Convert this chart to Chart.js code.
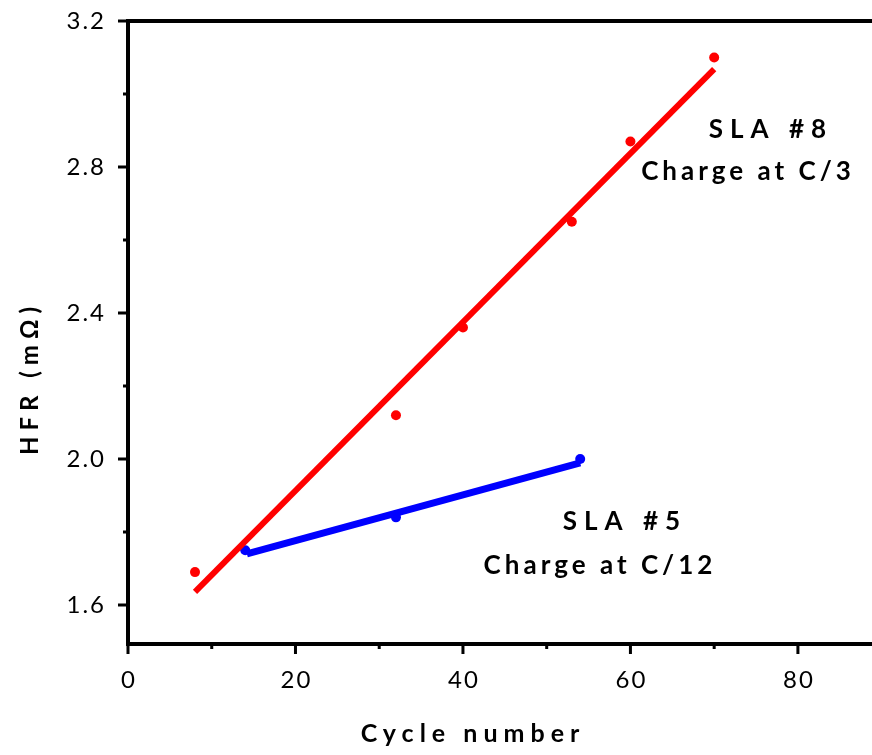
<!DOCTYPE html>
<html>
<head>
<meta charset="utf-8">
<script src="https://cdn.jsdelivr.net/npm/chart.js@4"></script>
<style>
  html, body { margin: 0; padding: 0; background: #fff; }
  #wrap { width: 872px; height: 755px; }
</style>
</head>
<body>
<div id="wrap"><canvas id="hfrChart" width="872" height="755"></canvas></div>
<script>
// measured points
const sla8Cycles = [8, 32, 40, 53, 60, 70];
const sla8Hfr = [1.69, 2.12, 2.36, 2.65, 2.87, 3.10];
const sla5Cycles = [14, 32, 54];
const sla5Hfr = [1.75, 1.84, 2.00];

// fitted lines (end points)
const sla8FitCycles = [8, 70];
const sla8FitHfr = [1.636, 3.068];
const sla5FitCycles = [14.2, 54];
const sla5FitHfr = [1.740, 1.989];

const xTicks = [0, 20, 40, 60, 80];
const xMinor = [10, 30, 50, 70];
const yTicks = [1.6, 2.0, 2.4, 2.8, 3.2];
const yMinor = [1.8, 2.2, 2.6, 3.0];

const FONT = 'Lato, "Open Sans", sans-serif';

function pts(xs, ys) {
    return xs.map((x, i) => ({ x: x, y: ys[i] }));
}

// axes, ticks and text drawn by hand so spacing matches
const decor = {
    id: 'decor',
    afterDraw(chart) {
        let ctx = chart.ctx;
        let a = chart.chartArea;
        let xs = chart.scales.x, ys = chart.scales.y;
        ctx.save();
        ctx.strokeStyle = '#000';
        ctx.lineWidth = 4;
        ctx.lineCap = 'butt';
        ctx.beginPath();
        ctx.moveTo(a.left, a.top - 2);
        ctx.lineTo(a.left, a.bottom + 2);
        ctx.moveTo(a.left - 2, a.bottom);
        ctx.lineTo(chart.width, a.bottom);
        ctx.moveTo(a.left - 2, a.top);
        ctx.lineTo(chart.width, a.top);
        ctx.stroke();

        ctx.lineWidth = 3;
        ctx.beginPath();
        xTicks.forEach(v => { let p = xs.getPixelForValue(v); ctx.moveTo(p, a.bottom); ctx.lineTo(p, a.bottom + 10); });
        xMinor.forEach(v => { let p = xs.getPixelForValue(v); ctx.moveTo(p, a.bottom); ctx.lineTo(p, a.bottom + 5); });
        yTicks.forEach(v => { let p = ys.getPixelForValue(v); ctx.moveTo(a.left, p); ctx.lineTo(a.left - 10, p); });
        yMinor.forEach(v => { let p = ys.getPixelForValue(v); ctx.moveTo(a.left, p); ctx.lineTo(a.left - 5, p); });
        ctx.stroke();

        ctx.fillStyle = '#000';
        ctx.font = '24px ' + FONT;
        ctx.letterSpacing = '2px';
        ctx.textAlign = 'center';
        ctx.textBaseline = 'top';
        xTicks.forEach(v => ctx.fillText(String(v), xs.getPixelForValue(v) + 1, a.bottom + 24));
        ctx.textAlign = 'right';
        ctx.textBaseline = 'middle';
        yTicks.forEach(v => ctx.fillText(v.toFixed(1), 106, ys.getPixelForValue(v)));

        // axis titles
        ctx.font = 'bold 25px ' + FONT;
        ctx.letterSpacing = '6px';
        ctx.textAlign = 'center';
        ctx.fillText('Cycle number', 473, 734);
        ctx.save();
        ctx.translate(30, 378);
        ctx.rotate(-Math.PI / 2);
        ctx.font = 'bold 24px ' + FONT;
        ctx.letterSpacing = '6px';
        ctx.fillText('HFR (mΩ)', 0, 0);
        ctx.restore();

        // annotations
        ctx.font = 'bold 26px ' + FONT;
        ctx.letterSpacing = '7px';
        ctx.fillText('SLA #8', 771, 130);
        ctx.fillText('SLA #5', 625, 522);
        ctx.letterSpacing = '4px';
        ctx.fillText('Charge at C/3', 748, 172);
        ctx.fillText('Charge at C/12', 600, 566);
        ctx.restore();
    }
};

new Chart(document.getElementById('hfrChart'), {
    type: 'scatter',
    data: {
        datasets: [
            { data: pts(sla8FitCycles, sla8FitHfr), showLine: true, borderColor: '#ff0000', borderWidth: 6, pointRadius: 0, borderCapStyle: 'butt' },
            { data: pts(sla5FitCycles, sla5FitHfr), showLine: true, borderColor: '#0000ff', borderWidth: 7, pointRadius: 0, borderCapStyle: 'butt' },
            { data: pts(sla8Cycles, sla8Hfr), backgroundColor: '#ff0000', borderWidth: 0, pointRadius: 5 },
            { data: pts(sla5Cycles, sla5Hfr), backgroundColor: '#0000ff', borderWidth: 0, pointRadius: 5 }
        ]
    },
    options: {
        responsive: false,
        animation: false,
        layout: { padding: { top: 21, right: 0, left: 0, bottom: 0 } },
        plugins: { legend: { display: false }, tooltip: { enabled: false } },
        scales: {
            x: {
                type: 'linear', min: 0, max: 88.25,
                grid: { display: false }, border: { display: false },
                ticks: { display: false },
                afterFit: s => { s.height = 111; }
            },
            y: {
                type: 'linear', min: 1.493, max: 3.2,
                grid: { display: false }, border: { display: false },
                ticks: { display: false },
                afterFit: s => { s.width = 128; }
            }
        }
    },
    plugins: [decor]
});
</script>
</body>
</html>
